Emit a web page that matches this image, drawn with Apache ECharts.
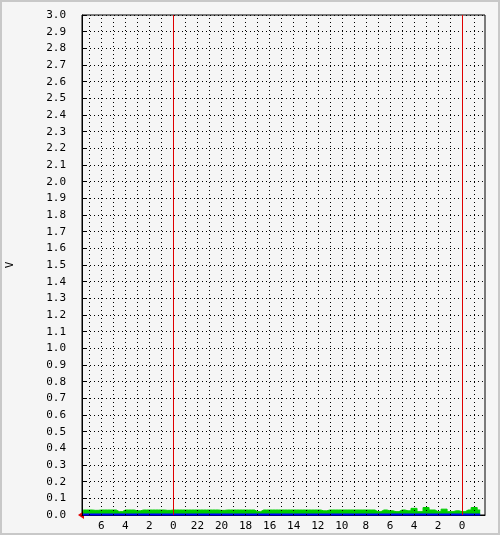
<!DOCTYPE html>
<html><head><meta charset="utf-8">
<script src="https://cdn.jsdelivr.net/npm/echarts@6/dist/echarts.min.js"></script>
<style>html,body{margin:0;padding:0;background:#c8c8c8}#c{width:496px;height:531px;margin:2px;background:#f5f5f5}</style>
</head><body><div id="c"></div>
<script>
// time positions in hours since 8 hours before the first midnight shown (increasing to the right)
var startHour = 0.5;
var stepHour = 0.5;
var greenValues = [0.03,0.03,0.028,0.03,0.03,0.03,0.02,0.03,0.03,0.025,0.03,0.03,0.03,0.03,0.028,0.03,0.03,0.03,0.03,0.03,0.03,0.03,0.03,0.028,0.03,0.03,0.03,0.03,0.03,0.02,0.03,0.03,0.03,0.03,0.03,0.03,0.03,0.03,0.03,0.03,0.025,0.03,0.03,0.03,0.03,0.03,0.03,0.03,0.03,0.02,0.03,0.025,0.02,0.03,0.025,0.04,0.02,0.045,0.03,0.02,0.035,0.02,0.025,0.02,0.03,0.045,0.03];
var blueValues = greenValues.map(function(){return 0.003;});
var tickHours = [2,4,6,8,10,12,14,16,18,20,22,24,26,28,30,32];
var gridHours = [1,2,3,4,5,6,7,9,10,11,12,13,14,15,16,17,18,19,20,21,22,23,24,25,26,27,28,29,30,31,33];
var midnightHours = [8,32];
function lbl(v){return String(((8-v)%24+24)%24);}
var g=[],b=[];
for(var i=0;i<greenValues.length;i++){var t=startHour+i*stepHour;g.push([t,greenValues[i]]);b.push([t,blueValues[i]]);}
var font='DejaVu Sans Mono';
var chart=echarts.init(document.getElementById('c'));
chart.setOption({
 animation:false,
 backgroundColor:'#f5f5f5',
 textStyle:{fontFamily:font},
 grid:{left:80,right:13,top:13,bottom:18,show:true,borderColor:'#000',borderWidth:1,backgroundColor:'#f5f5f5',containLabel:false,outerBoundsMode:'none'},
 xAxis:{type:'value',min:0.4,max:33.9,
  axisLine:{onZero:false,lineStyle:{color:'#000'}},
  axisTick:{customValues:tickHours,length:0},
  axisLabel:{customValues:tickHours,formatter:lbl,color:'#000',fontSize:11,fontFamily:font,margin:6},
  splitLine:{show:false}
 },
 yAxis:{type:'value',min:0,max:3,interval:0.1,name:'V',nameLocation:'middle',nameGap:66,nameTextStyle:{color:'#000',fontSize:11,fontFamily:font},
  axisLine:{show:true,onZero:false,lineStyle:{color:'#000'}},
  axisTick:{show:true,inside:true,length:4,lineStyle:{color:'#000'}},
  axisLabel:{formatter:function(v){return v.toFixed(1);},color:'#000',fontSize:11,fontFamily:font,margin:16},
  splitLine:{show:true,lineStyle:{color:'#000',type:[1,3],width:1}}
 },
 series:[
  {type:'line',data:[],symbol:'none',
   markLine:{symbol:'none',silent:true,label:{show:false},lineStyle:{color:'#000',type:[1,3],width:1},data:gridHours.map(function(h){return {xAxis:h};})}},
  {type:'line',step:'middle',data:g,symbol:'none',lineStyle:{color:'#00cc00',width:1},areaStyle:{color:'#00cc00',opacity:1}},
  {type:'line',data:b,symbol:'none',lineStyle:{color:'#0000ff',width:2}},
  {type:'line',data:[],symbol:'none',z:10,
   markLine:{symbol:'none',silent:true,label:{show:false},lineStyle:{color:'#e00000',type:'solid',width:1},data:midnightHours.map(function(h){return {xAxis:h};})}}
 ],
 graphic:[{type:'polygon',shape:{points:[[76,513],[82,509],[82,517]]},style:{fill:'#e00000'}}]
});
</script></body></html>
